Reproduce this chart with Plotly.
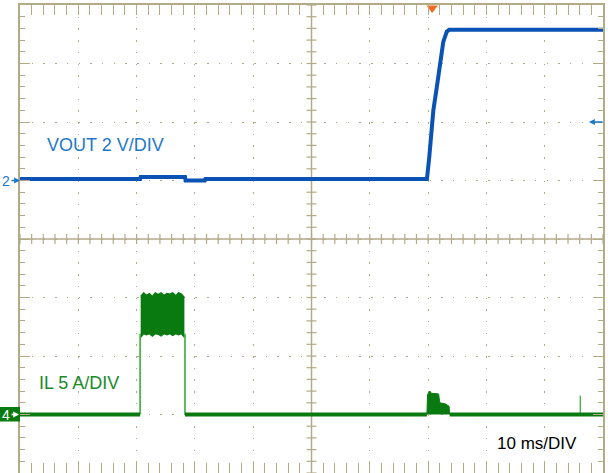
import plotly.graph_objects as go

# ---------------- data (time in ms, VOUT in V, IL in A) ----------------
vout_t = [0, 20.6, 20.7, 28.3, 28.4, 31.7, 31.8, 69.8, 70.2, 70.6, 70.9, 71.5, 72.0, 72.6, 73.2, 73.6, 100]
vout_v = [0.05, 0.05, 0.12, 0.12, 0.0, 0.0, 0.05, 0.05, 0.80, 1.61, 2.40, 3.20, 4.01, 4.74, 5.09, 5.15, 5.15]

il_base_t = [0, 20.6, None, 28.3, 69.8, None, 73.7, 100]
il_base_a = [0, 0, None, 0, 0, None, 0, 0]

il_edge_t = [20.6, 20.6, None, 28.3, 28.3]
il_edge_a = [0, 6.9, None, 6.9, 0]

band_t = [20.7, 21.2, 21.7, 22.2, 22.7, 23.2, 23.7, 24.2, 24.7, 25.2, 25.7, 26.2, 26.7, 27.2, 27.7, 28.2]
band_hi = [10.1, 10.4, 10.2, 10.35, 10.1, 10.4, 10.25, 10.4, 10.2, 10.35, 10.3, 10.4, 10.15, 10.4, 10.3, 10.0]
band_lo = [6.6, 6.9, 6.8, 6.9, 6.7, 6.9, 6.85, 6.7, 6.9, 6.8, 6.9, 6.75, 6.9, 6.8, 6.9, 6.6]

blip_t = [69.8, 69.9, 70.3, 70.6, 71.0, 71.8, 72.0, 73.0, 73.6, 73.7]
blip_a = [0, 1.7, 2.0, 1.8, 1.8, 1.75, 1.0, 0.9, 0.7, 0]

spike_t = [96.1, 96.1]
spike_a = [0, 1.6]

trigger_t = 70.7
trigger_level_v = 2.0

# ---------------- styling ----------------
GRID = "#b3aa88"
BLUE = "#0a52b4"
BLUE_TXT = "#1e78c8"
GREEN = "#087a10"
GREEN_TXT = "#1a8a2a"
FONT = "Liberation Sans, Arial, DejaVu Sans, sans-serif"

fig = go.Figure()

# VOUT
fig.add_trace(go.Scatter(x=vout_t, y=vout_v, mode="lines",
                         line=dict(color=BLUE, width=4), yaxis="y", hoverinfo="skip"))

# IL pulse band
fig.add_trace(go.Scatter(x=band_t, y=band_hi, mode="lines", line=dict(color=GREEN, width=1.2),
                         yaxis="y2", hoverinfo="skip"))
fig.add_trace(go.Scatter(x=band_t, y=band_lo, mode="lines", line=dict(color=GREEN, width=1.2),
                         fill="tonexty", fillcolor=GREEN, yaxis="y2", hoverinfo="skip"))
# IL edges
fig.add_trace(go.Scatter(x=il_edge_t, y=il_edge_a, mode="lines",
                         line=dict(color="#2aa82a", width=1.5), yaxis="y2", hoverinfo="skip"))
# IL blip
fig.add_trace(go.Scatter(x=blip_t, y=blip_a, mode="lines", line=dict(color=GREEN, width=1),
                         fill="tozeroy", fillcolor=GREEN, yaxis="y2", hoverinfo="skip"))
# IL spike
fig.add_trace(go.Scatter(x=spike_t, y=spike_a, mode="lines",
                         line=dict(color="#2aa82a", width=1.2), yaxis="y2", hoverinfo="skip"))
# IL baseline
fig.add_trace(go.Scatter(x=il_base_t, y=il_base_a, mode="lines",
                         line=dict(color=GREEN, width=4), yaxis="y2", hoverinfo="skip",
                         connectgaps=False))

# trigger position marker (top)
fig.add_trace(go.Scatter(x=[trigger_t], y=[5.9], mode="markers",
                         marker=dict(symbol="triangle-down", size=10, color="#f26b21"),
                         yaxis="y", cliponaxis=False, hoverinfo="skip"))

# ---------------- graticule: centre cross with ticks ----------------
H = 473 - 5
W = 608 - 20 - 5
shapes = []
shapes.append(dict(type="line", xref="x", yref="paper", x0=50, x1=50, y0=0, y1=1,
                   line=dict(color=GRID, width=1.5), layer="below"))
shapes.append(dict(type="line", xref="paper", yref="paper", x0=0, x1=1, y0=0.5, y1=0.5,
                   line=dict(color=GRID, width=1.5), layer="below"))
for i in range(51):
    xt = i * 2.0
    shapes.append(dict(type="line", xref="x", yref="paper", x0=xt, x1=xt,
                       y0=0.5 - 5 / H, y1=0.5 + 5 / H, line=dict(color=GRID, width=1.2), layer="below"))
for j in range(41):
    yp = j / 40
    shapes.append(dict(type="line", xref="paper", yref="paper", x0=0.5 - 5 / W, x1=0.5 + 5 / W,
                       y0=yp, y1=yp, line=dict(color=GRID, width=1.2), layer="below"))
# channel-4 ground marker box (left margin, one division above the bottom)
shapes.append(dict(type="rect", xref="paper", yref="paper", x0=-20 / W, x1=0,
                   y0=1 / 8 - 7 / H, y1=1 / 8 + 7.5 / H, line=dict(width=0), fillcolor=GREEN,
                   layer="above"))

annotations = [
    dict(text="VOUT 2 V/DIV", x=4.29, y=1.21, xref="x", yref="y", xanchor="left", yanchor="middle",
         showarrow=False, font=dict(family=FONT, size=18, color=BLUE_TXT)),
    dict(text="IL 5 A/DIV", x=2.92, y=2.69, xref="x", yref="y2", xanchor="left", yanchor="middle",
         showarrow=False, font=dict(family=FONT, size=18, color=GREEN_TXT)),
    dict(text="10 ms/DIV", x=81.5, y=-2.44, xref="x", yref="y2", xanchor="left", yanchor="middle",
         showarrow=False, font=dict(family=FONT, size=17, color="#000000")),
    # channel-2 ground marker
    dict(text="2", x=0, y=0, xref="paper", yref="y", showarrow=True, ax=-14, ay=0,
         arrowhead=2, arrowsize=0.9, arrowwidth=1.3, arrowcolor=BLUE_TXT, standoff=0,
         font=dict(family=FONT, size=14, color=BLUE_TXT)),
    # channel-4 ground marker
    dict(text="4", x=0, y=0, xref="paper", yref="y2", showarrow=True, ax=-14, ay=0,
         arrowhead=2, arrowsize=0.9, arrowwidth=1.3, arrowcolor="white", standoff=1,
         font=dict(family=FONT, size=14, color="white")),
    # trigger level marker (right)
    dict(text="", x=(589 - 20) / W, y=trigger_level_v, xref="paper", yref="y", showarrow=True,
         ax=15, ay=0, arrowhead=2, arrowsize=0.9, arrowwidth=1.3, arrowcolor=BLUE_TXT, standoff=0),
]

axis_common = dict(showticklabels=False, zeroline=False, showline=True, linecolor=GRID,
                   linewidth=1.5, mirror="allticks", ticks="inside", tickcolor=GRID,
                   ticklen=10, tickwidth=1.2, showgrid=True, gridcolor=GRID, gridwidth=1.2,
                   griddash="1.5px,10.2px", fixedrange=True)

fig.update_layout(
    width=608, height=473,
    margin=dict(l=20, r=5, t=5, b=0, autoexpand=False),
    paper_bgcolor="white", plot_bgcolor="white",
    showlegend=False,
    xaxis=dict(range=[0, 100], dtick=10, tick0=0,
               minor=dict(dtick=2, ticks="inside", ticklen=5, tickcolor=GRID, showgrid=False),
               **axis_common),
    yaxis=dict(range=[-10, 6], dtick=2, tick0=0,
               minor=dict(dtick=0.4, ticks="inside", ticklen=5, tickcolor=GRID, showgrid=False),
               **axis_common),
    yaxis2=dict(range=[-5, 35], overlaying="y", visible=False, fixedrange=True),
    shapes=shapes,
    annotations=annotations,
)

fig.write_html(
    "out.html",
    config={"displayModeBar": False},
    post_script="document.documentElement.style.margin='0';document.documentElement.style.overflow='hidden';"
                "document.body.style.margin='0';document.body.style.overflow='hidden';",
)
